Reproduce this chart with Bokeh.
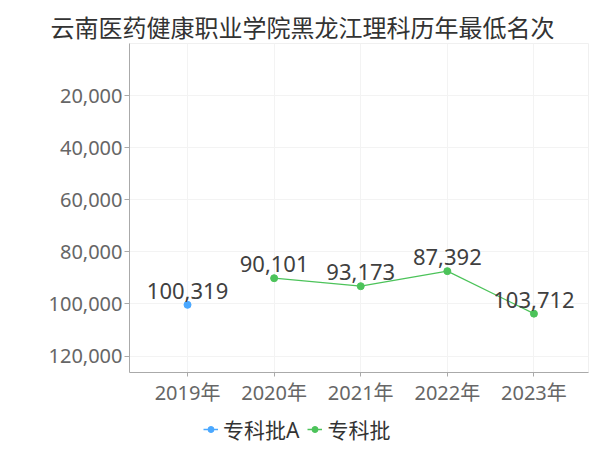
from bokeh.plotting import figure
from bokeh.layouts import column
from bokeh.models import Range1d, FixedTicker, ColumnDataSource, Legend, LegendItem, NumeralTickFormatter
from bokeh.embed import file_html
from bokeh.resources import INLINE
from bokeh.core.properties import value

title_text = "云南医药健康职业学院黑龙江理科历年最低名次"
years = ["2019年", "2020年", "2021年", "2022年", "2023年"]
series_a_name = "专科批A"
series_a_years = ["2019年"]
series_a_values = [100319]
series_b_name = "专科批"
series_b_years = ["2020年", "2021年", "2022年", "2023年"]
series_b_values = [90101, 93173, 87392, 103712]
y_ticks = [20000, 40000, 60000, 80000, 100000, 120000]

FONT = "Noto Sans, Noto Sans CJK SC, sans-serif"
BLUE = "#4AA8FF"
GREEN = "#4CC35A"

def src(yrs, vals):
    return ColumnDataSource(dict(
        x=[years.index(y) for y in yrs],
        y=vals,
        label=[f"{v:,}" for v in vals],
    ))

src_a = src(series_a_years, series_a_values)
src_b = src(series_b_years, series_b_values)

p = figure(width=600, height=410, output_backend="svg", toolbar_location=None,
           x_range=Range1d(-0.67, 4.63), y_range=Range1d(126300, 0),
           min_border_left=129, min_border_right=12, min_border_top=43, min_border_bottom=38)

p.title.text = title_text
p.title.align = "left"
p.title.offset = -79
p.title.standoff = 0
p.title.text_font = FONT
p.title.text_font_size = "24px"
p.title.text_font_style = "normal"
p.title.text_color = "#333333"

p.outline_line_color = "#f0f0f0"
p.background_fill_color = "white"
p.border_fill_color = "white"

p.xaxis.ticker = FixedTicker(ticks=list(range(len(years))))
p.xaxis.major_label_overrides = {i: y for i, y in enumerate(years)}
p.yaxis.ticker = FixedTicker(ticks=y_ticks)
p.yaxis.formatter = NumeralTickFormatter(format="0,0")

for ax in (p.xaxis[0], p.yaxis[0]):
    ax.axis_line_color = "#aaaaaa"
    ax.major_tick_line_color = "#aaaaaa"
    ax.minor_tick_line_color = None
    ax.major_tick_in = 0
    ax.major_label_text_font = FONT
    ax.major_label_text_font_size = "20px"
    ax.major_label_text_color = "#666666"
p.xaxis.major_tick_out = 4
p.xaxis.major_label_standoff = 2
p.yaxis.major_tick_out = 5
p.yaxis.major_label_standoff = 2

p.xgrid.ticker = FixedTicker(ticks=list(range(len(years))))
p.xgrid.grid_line_color = "#f3f3f3"
p.ygrid.grid_line_color = "#f3f3f3"

p.line("x", "y", source=src_a, line_color=BLUE, line_width=1.2)
p.scatter("x", "y", source=src_a, size=7, fill_color=BLUE, line_color=BLUE)
p.line("x", "y", source=src_b, line_color=GREEN, line_width=1.2)
p.scatter("x", "y", source=src_b, size=7, fill_color=GREEN, line_color=GREEN)

for s in (src_a, src_b):
    p.text("x", "y", text="label", source=s, text_align="center", text_baseline="alphabetic",
           y_offset=-14, text_font=value(FONT), text_font_size="22px", text_color="#404040")

# legend strip below the chart (its renderers reuse the series sources, which lie outside this strip's range)
lg = figure(width=600, height=40, output_backend="svg", toolbar_location=None,
            x_range=Range1d(-0.67, 4.63), y_range=Range1d(0, 1),
            x_axis_location=None, y_axis_location=None,
            min_border_left=129, min_border_right=12, min_border_top=0, min_border_bottom=0)
lg.outline_line_color = None
lg.grid.visible = False
la = lg.line("x", "y", source=src_a, line_color=BLUE, line_width=1.5)
sa = lg.scatter("x", "y", source=src_a, size=7, fill_color=BLUE, line_color=BLUE)
lb = lg.line("x", "y", source=src_b, line_color=GREEN, line_width=1.5)
sb = lg.scatter("x", "y", source=src_b, size=7, fill_color=GREEN, line_color=GREEN)

legend = Legend(items=[LegendItem(label=series_a_name, renderers=[la, sa]),
                       LegendItem(label=series_b_name, renderers=[lb, sb])],
                orientation="horizontal", location=(74, 6),
                label_text_font=FONT, label_text_font_size="21px", label_text_color="#333333",
                glyph_width=15, glyph_height=20, label_standoff=5, spacing=8,
                padding=0, margin=0, border_line_color=None, background_fill_alpha=0)
lg.add_layout(legend, "center")

layout = column(p, lg, spacing=0)
open("out.html", "w").write(file_html(layout, INLINE))
